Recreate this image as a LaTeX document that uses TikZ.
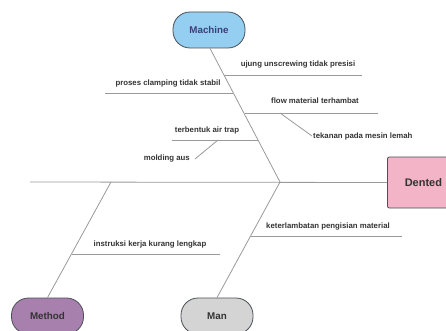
\documentclass[tikz,border=0pt]{standalone}
\usepackage{fontspec}
\setmainfont{Liberation Sans}
\definecolor{bone}{HTML}{9A9A9A}
\definecolor{machfill}{HTML}{94CFF1}
\definecolor{methfill}{HTML}{A880AE}
\definecolor{manfill}{HTML}{D4D4D4}
\definecolor{dentfill}{HTML}{F3B4C7}
\definecolor{edge}{HTML}{4A4F58}
\definecolor{txt}{HTML}{333333}
\tikzset{
  pill/.style={draw=edge, line width=0.8pt, rounded corners=17pt, minimum width=72pt, minimum height=36pt, inner sep=0pt, font=\bfseries\fontsize{9.8}{11}\selectfont, text=txt},
  effect/.style={draw=edge, line width=0.8pt, rounded corners=2pt, minimum width=80pt, minimum height=51pt, inner sep=0pt, font=\bfseries\fontsize{11}{13}\selectfont, text=txt},
  ln/.style={draw=bone, line width=0.8pt},
  lbl/.style={font=\bfseries\fontsize{7.8}{9}\selectfont, text=txt, inner sep=0pt}
}
\begin{document}
\begin{tikzpicture}[x=1pt,y=-1pt]
\useasboundingbox (0,0) rectangle (446,331);
\clip (0,0) rectangle (446,331);
\fill[white] (0,0) rectangle (446,331);
% main nodes
\node[pill, fill=machfill, text=edge!80!blue] (machine) at (209,30) {Machine};
\node[pill, fill=methfill] (method) at (47.5,316) {Method};
\node[pill, fill=manfill] (man) at (217,316) {Man};
\node[effect, fill=dentfill, anchor=west] (dented) at (387,182.5) {\hspace*{-8pt}Dented};
% spine
\coordinate (tail) at (30,182);
\coordinate (jm) at (280,182);
\coordinate (jt) at (111,182);
\draw[ln] (tail) -- (dented.west);
% bones
\draw[ln] (machine.south) ++(1,0) coordinate (ms) -- (jm);
\draw[ln] (man.north) -- (jm);
\draw[ln] (method.north) -- (jt);
% machine causes
\coordinate (a1) at (224,75);   \coordinate (a2) at (362,75);
\draw[ln] (a1) -- (a2);
\node[lbl] (t1) at (298,65) {ujung unscrewing tidak presisi};
\coordinate (b1) at (105,93);   \coordinate (b2) at (233,93);
\draw[ln] (b1) -- (b2);
\node[lbl] (t2) at (168,84) {proses clamping tidak stabil};
\coordinate (c1) at (245,113);  \coordinate (c2) at (378,113);
\draw[ln] (c1) -- (c2);
\node[lbl] (t3) at (315,101) {flow material terhambat};
\node[lbl, anchor=west] (t4) at (313,136) {tekanan pada mesin lemah};
\coordinate (c3) at (280,113);
\draw[ln] (c3) -- ([xshift=-1pt]t4.west);
\coordinate (d1) at (172,140);  \coordinate (d2) at (258,140);
\draw[ln] (d1) -- (d2);
\node[lbl] (t5) at (207,130) {terbentuk air trap};
\node[lbl, anchor=east] (t6) at (190,159) {molding aus};
\coordinate (d3) at (218,140);
\draw[ln] (d3) -- ([xshift=5pt]t6.east);
% method cause
\coordinate (e1) at (72,254);   \coordinate (e2) at (220,254);
\draw[ln] (e1) -- (e2);
\node[lbl] (t7) at (150,244) {instruksi kerja kurang lengkap};
% man cause
\coordinate (f1) at (251,236);  \coordinate (f2) at (402,236);
\draw[ln] (f1) -- (f2);
\node[lbl] (t8) at (328,226) {keterlambatan pengisian material};
\end{tikzpicture}
\end{document}
